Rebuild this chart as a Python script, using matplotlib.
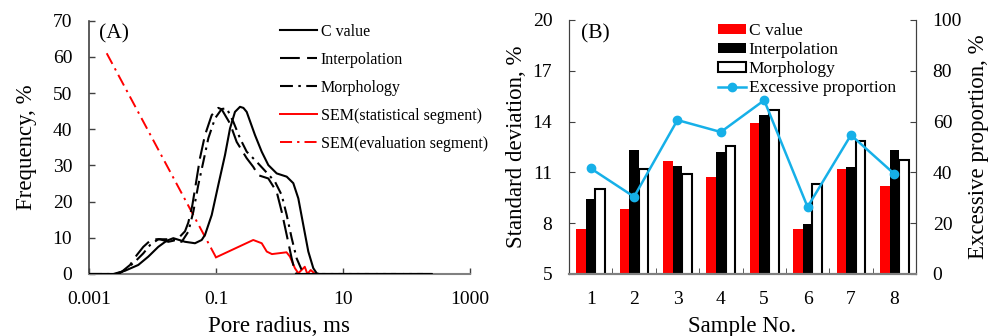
import matplotlib
matplotlib.use("Agg")
import matplotlib.pyplot as plt
import numpy as np
from matplotlib.lines import Line2D
from matplotlib.patches import Patch

plt.rcParams['font.family'] = ['Liberation Serif', 'DejaVu Serif']

# ---------------- Panel A data ----------------
c_x = [0.001, 0.00242, 0.00369, 0.00597, 0.00859, 0.01233, 0.01675, 0.02128, 0.0325, 0.04667,
       0.0595, 0.0671, 0.0856, 0.1087, 0.1387, 0.1661, 0.199, 0.2388, 0.27, 0.3043, 0.411,
       0.5244, 0.6668, 0.9033, 1.298, 1.649, 1.978, 2.373, 2.843, 3.407, 3.852, 4.2, 250]
c_y = [0, 0, 0.9, 2.5, 4.8, 7.5, 9.2, 9.9, 8.9, 8.5,
       9.4, 10.8, 16.3, 24.6, 32.9, 40.2, 44.8, 46.2, 45.9, 44.8, 38.4,
       33.8, 30.1, 27.8, 26.9, 25.1, 20.9, 13.5, 6.2, 1.6, 0.2, 0, 0]

interp_x = [0.001, 0.0026, 0.00327, 0.00443, 0.00564, 0.00716, 0.00971, 0.01312, 0.01774, 0.02404,
            0.0325, 0.0366, 0.0424, 0.0467, 0.0559, 0.0671, 0.0856, 0.1087, 0.123, 0.1661,
            0.2117, 0.3043, 0.3866, 0.4637, 0.6668, 0.9033, 1.084, 1.298, 1.556, 1.754, 1.85, 250]
interp_y = [0, 0, 0.6, 2.5, 5.2, 7.5, 9.6, 9.6, 8.9, 9.4,
            11.8, 14.2, 19.0, 23.5, 32.0, 38.4, 43.9, 45.9, 45.5, 41.6,
            36.5, 32.0, 29.6, 27.3, 26.4, 22.7, 17.2, 10.8, 4.3, 0.6, 0, 0]

morph_x = [0.001, 0.0029, 0.00369, 0.0053, 0.00716, 0.00914, 0.01233, 0.02006, 0.02884, 0.03664,
           0.04393, 0.0526, 0.0631, 0.0757, 0.0964, 0.123, 0.1476, 0.1871, 0.2388, 0.3043,
           0.4372, 0.63, 0.8492, 1.084, 1.298, 1.556, 1.865, 2.237, 2.45, 250]
morph_y = [0, 0, 1.1, 3.4, 5.7, 8.0, 9.6, 9.6, 8.9, 11.7,
           17.2, 24.6, 31.0, 37.5, 43.0, 45.6, 45.8, 42.1, 37.5, 33.8,
           31.0, 28.0, 25.5, 21.8, 16.3, 9.9, 4.3, 1.1, 0, 0]

sem_stat_x = [0.1, 0.386, 0.525, 0.63, 0.76, 1.29, 1.46, 1.75, 1.98, 2.5, 2.75, 3.1, 3.65]
sem_stat_y = [4.6, 9.4, 8.5, 6.2, 5.5, 6.0, 4.8, 1.6, 0.2, 2.0, 0, 1.1, 0]

sem_eval_x = [0.0019, 0.1]
sem_eval_y = [61, 4.6]

# ---------------- Panel B data ----------------
samples = [1, 2, 3, 4, 5, 6, 7, 8]
c_value = [7.64, 8.86, 11.67, 10.75, 13.94, 7.64, 11.2, 10.2]
interpolation = [9.41, 12.30, 11.38, 12.19, 14.41, 7.97, 11.3, 12.30]
morphology = [10.0, 11.2, 10.9, 12.56, 14.67, 10.33, 12.87, 11.75]
excessive = [41.6, 30.4, 60.6, 55.9, 68.4, 26.4, 54.7, 39.4]

W, H = 995, 336
fig = plt.figure(figsize=(W / 100, H / 100), dpi=100)

spine_col = '#404040'
base_col = '#808080'
red = '#ff0000'
blue = '#16b0e8'

dash_long = (0, (9.5, 3.5))
dash_dot = (0, (6.2, 2.6, 1.2, 2.6))

# ---------------- Panel A ----------------
axA = fig.add_axes([89 / W, 1 - 274 / H, (470 - 89) / W, (274 - 20.7) / H])
lw = 1.5
axA.plot(sem_eval_x, sem_eval_y, color=red, lw=1.4, linestyle=dash_dot, zorder=2)
axA.plot(sem_stat_x, sem_stat_y, color=red, lw=1.4, zorder=2)
axA.plot(c_x, c_y, color='black', lw=lw, zorder=3)
axA.plot(interp_x, interp_y, color='black', lw=lw, linestyle=dash_long, zorder=3)
axA.plot(morph_x, morph_y, color='black', lw=lw, linestyle=dash_dot, zorder=3)
axA.set_xscale('log')
axA.set_xlim(0.001, 1000)
axA.set_ylim(0, 70)
axA.set_xticks([0.001, 0.1, 10, 1000])
axA.set_xticklabels(['0.001', '0.1', '10', '1000'])
axA.xaxis.set_minor_locator(matplotlib.ticker.NullLocator())
axA.set_yticks(range(0, 71, 10))
axA.tick_params(axis='both', direction='in', length=4, width=1, labelsize=14, pad=12, color=spine_col)
axA.spines['top'].set_visible(False)
axA.spines['right'].set_visible(False)
axA.spines['left'].set_color(spine_col)
axA.spines['bottom'].set_color(base_col)
axA.spines['left'].set_linewidth(1.2)
axA.spines['bottom'].set_linewidth(1.5)
axA.set_xlabel('Pore radius, ms', fontsize=16.5, labelpad=6)
axA.set_ylabel('Frequency, %', fontsize=16.5, labelpad=11)
axA.text(0.025, 0.985, '(A)', transform=axA.transAxes, fontsize=15.5, va='top', ha='left')

handlesA = [
    Line2D([], [], color='black', lw=lw),
    Line2D([], [], color='black', lw=lw, linestyle=dash_long),
    Line2D([], [], color='black', lw=lw, linestyle=dash_dot),
    Line2D([], [], color=red, lw=1.4),
    Line2D([], [], color=red, lw=1.4, linestyle=dash_dot),
]
labelsA = ['C value', 'Interpolation', 'Morphology', 'SEM(statistical segment)', 'SEM(evaluation segment)']
axA.legend(handlesA, labelsA, loc='upper left', bbox_to_anchor=(0.501, 0.987),
           frameon=False, fontsize=11.5, handlelength=2.3, handletextpad=0.25,
           labelspacing=0.75, borderpad=0, borderaxespad=0)

# ---------------- Panel B ----------------
axB = fig.add_axes([569 / W, 1 - 274 / H, (916 - 569) / W, (274 - 20) / H])
x = np.array(samples, dtype=float)
bw = 0.22
axB.bar(x - bw, c_value, width=bw, color=red, zorder=2)
axB.bar(x, interpolation, width=bw, color='black', zorder=2)
axB.bar(x + bw, morphology, width=bw, color='white', edgecolor='black', linewidth=1.5, zorder=2)
axB.set_xlim(0.5, 8.5)
axB.set_ylim(5, 20)
axB.set_yticks([5, 8, 11, 14, 17, 20])
axB.set_xticks(samples)
axB.set_xticks(np.arange(1.5, 8.5, 1), minor=True)
axB.tick_params(axis='x', which='major', length=0, labelsize=14, pad=12)
axB.tick_params(axis='x', which='minor', direction='in', length=4, color=spine_col)
axB.tick_params(axis='y', direction='in', length=4, labelsize=14, pad=12, color=spine_col)
axB.spines['top'].set_visible(False)
axB.spines['left'].set_color(spine_col)
axB.spines['right'].set_color(spine_col)
axB.spines['bottom'].set_color(base_col)
axB.spines['bottom'].set_linewidth(1.5)
axB.set_xlabel('Sample No.', fontsize=16.5, labelpad=6)
axB.set_ylabel('Standard deviation, %', fontsize=16.5, labelpad=4)
axB.text(0.035, 0.985, '(B)', transform=axB.transAxes, fontsize=15.5, va='top', ha='left')

axB2 = axB.twinx()
axB2.plot(x, excessive, color=blue, lw=1.8, marker='o', markersize=6, zorder=3)
axB2.set_ylim(0, 100)
axB2.set_yticks(range(0, 101, 20))
axB2.tick_params(axis='y', direction='in', length=4, labelsize=14, pad=12, color=spine_col)
axB2.spines['top'].set_visible(False)
axB2.spines['right'].set_color(spine_col)
axB2.spines['left'].set_color(spine_col)
axB2.spines['bottom'].set_color(base_col)
axB2.spines['bottom'].set_linewidth(1.5)
axB2.set_ylabel('Excessive proportion, %', fontsize=16.5, labelpad=4)

handlesB = [
    Patch(facecolor=red, edgecolor='none'),
    Patch(facecolor='black', edgecolor='none'),
    Patch(facecolor='white', edgecolor='black', linewidth=1.5),
    Line2D([], [], color=blue, lw=1.8, marker='o', markersize=6),
]
labelsB = ['C value', 'Interpolation', 'Morphology', 'Excessive proportion']
axB2.legend(handlesB, labelsB, loc='upper left', bbox_to_anchor=(0.43, 0.988),
            frameon=False, fontsize=12.5, handlelength=1.6, handleheight=0.55,
            handletextpad=0.15, labelspacing=0.18, borderpad=0, borderaxespad=0)

fig.savefig('out.png', dpi=100)
